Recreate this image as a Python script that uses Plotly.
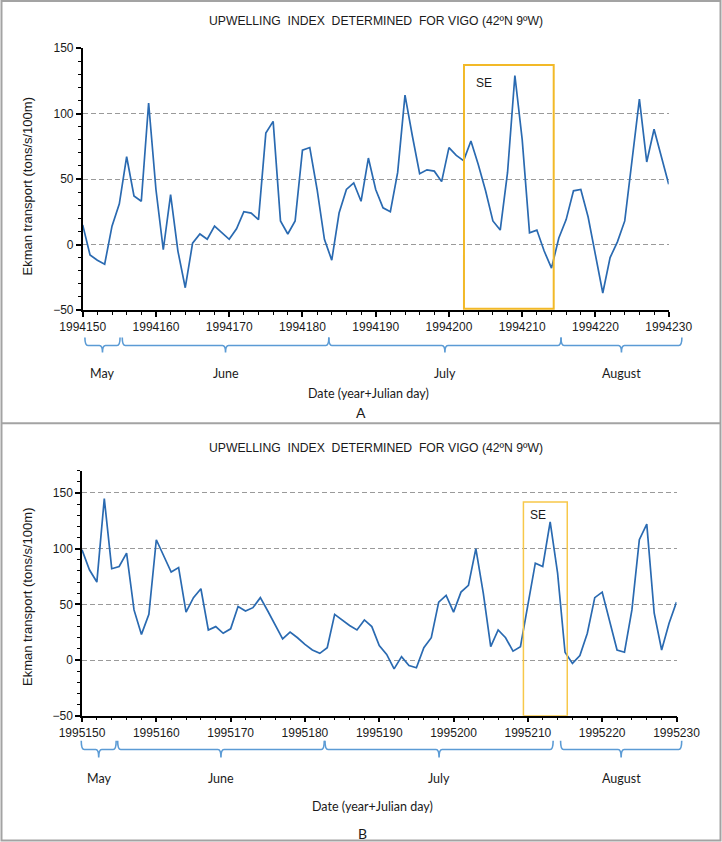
import plotly.graph_objects as go

W, H = 722, 842

# ---------------- data ----------------
days = list(range(150, 231))
dates_1994 = [1994000 + d for d in days]
dates_1995 = [1995000 + d for d in days]

ekman_1994 = [15, -8, -12, -15, 14, 31, 67, 37, 33, 108,
              42, -4, 38, -5, -33, 1, 8, 4, 14, 9,
              4, 12, 25, 24, 19, 85, 94, 18, 8, 18,
              72, 74, 42, 4, -12, 24, 42, 47, 33, 66,
              42, 28, 25, 55, 114, 83, 54, 57, 56, 48,
              74, 68, 64, 79, 61, 41, 18, 11, 55, 129,
              80, 9, 11, -5, -18, 5, 19, 41, 42, 21,
              -9, -37, -10, 2, 18, 67, 111, 63, 88, 67,
              46]

ekman_1995 = [99, 81, 70, 145, 82, 84, 96, 45, 23, 41,
              108, 93, 79, 83, 43, 56, 64, 27, 30, 24,
              28, 48, 44, 47, 56, 44, 31, 19, 25, 20,
              14, 9, 6, 11, 41, 36, 31, 27, 36, 30,
              13, 5, -8, 3, -5, -7, 11, 20, 52, 58,
              43, 61, 67, 100, 60, 12, 27, 20, 8, 12,
              48, 87, 84, 124, 78, 7, -3, 4, 24, 56,
              61, 35, 9, 7, 45, 108, 122, 42, 9, 33,
              52]

x_ticks_1994 = [1994150 + 10 * i for i in range(9)]
x_ticks_1995 = [1995150 + 10 * i for i in range(9)]
y_ticks = [-50, 0, 50, 100, 150]

months = ["May", "June", "July", "August"]
month_spans_1994 = [(150.3, 155.1), (155.4, 183.6), (183.6, 215.3), (215.3, 231.8)]
month_spans_1995 = [(149.9, 154.6), (154.8, 182.6), (182.7, 213.4), (214.4, 230.7)]

se_box_1994 = (1994202.05, 1994214.3, -49, 137)
se_box_1995 = (1995209.4, 1995215.3, -50, 142)

title_text = "UPWELLING  INDEX  DETERMINED  FOR VIGO (42ºN 9ºW)"
ytitle = "Ekman transport (tons/s/100m)"
xtitle = "Date (year+Julian day)"

# ---------------- layout geometry (pixels) ----------------
def px(x):
    return x / W

def py(y):
    return 1 - y / H

top = dict(xl=82.7, xr=668.7, yt=48, yb=310, rng=(-50, 150))
bot = dict(xl=82.0, xr=676.5, yt=470.7, yb=715.7, rng=(-50, 170))

LINE_COLOR = "#2A6AB1"
TEXT_COLOR = "#1a1a1a"
TICK_FONT = dict(family="Arial, Liberation Sans", size=12, color=TEXT_COLOR)
CAL_FONT = dict(family="Lato, Open Sans", size=12.5, color=TEXT_COLOR)

fig = go.Figure()
fig.add_trace(go.Scatter(x=dates_1994, y=ekman_1994, mode="lines",
                         line=dict(color=LINE_COLOR, width=1.7),
                         xaxis="x", yaxis="y", showlegend=False))
fig.add_trace(go.Scatter(x=dates_1995, y=ekman_1995, mode="lines",
                         line=dict(color=LINE_COLOR, width=1.7),
                         xaxis="x2", yaxis="y2", showlegend=False))


def xaxis_cfg(g, ticks, anchor):
    return dict(domain=[px(g["xl"]), px(g["xr"])], range=[ticks[0], ticks[-1]],
                tickvals=ticks, ticktext=[str(t) for t in ticks],
                showline=True, linecolor="black", linewidth=1.5,
                ticks="outside", ticklen=5, tickwidth=1.5, tickcolor="black",
                minor=dict(dtick=2, tick0=ticks[0], ticks="outside", ticklen=3,
                           tickwidth=1, tickcolor="black", showgrid=False),
                showgrid=False, zeroline=False, anchor=anchor, automargin=False,
                tickfont=TICK_FONT, fixedrange=True)


def yaxis_cfg(g, anchor):
    return dict(domain=[py(g["yb"]), py(g["yt"])], range=list(g["rng"]),
                tickvals=y_ticks, showline=True, linecolor="black", linewidth=1.5,
                ticks="outside", ticklen=5, tickwidth=1.5, tickcolor="black",
                minor=dict(dtick=10, tick0=-50, ticks="outside", ticklen=3,
                           tickwidth=1, tickcolor="black", showgrid=False),
                showgrid=True, gridcolor="#9a9a9a", gridwidth=1.4,
                griddash="5px,3px", zeroline=False, anchor=anchor, automargin=False,
                tickfont=TICK_FONT, fixedrange=True)


fig.update_layout(
    template="none",
    width=W, height=H, margin=dict(l=0, r=0, t=0, b=0, pad=0, autoexpand=False),
    paper_bgcolor="white", plot_bgcolor="white", showlegend=False,
    xaxis=xaxis_cfg(top, x_ticks_1994, "y"),
    yaxis=yaxis_cfg(top, "x"),
    xaxis2=xaxis_cfg(bot, x_ticks_1995, "y2"),
    yaxis2=yaxis_cfg(bot, "x2"),
)

shapes = []
annotations = []


def note(x, y, text, font, **kw):
    d = dict(x=px(x), y=py(y), xref="paper", yref="paper", text=text,
             showarrow=False, xanchor="center", yanchor="middle", font=font)
    d.update(kw)
    annotations.append(d)


# frame and separator
FRAME = "#a3a3a3"
shapes.append(dict(type="rect", xref="paper", yref="paper",
                   x0=px(1.5), x1=px(720.5), y0=py(840.5), y1=py(1),
                   line=dict(color=FRAME, width=2)))
shapes.append(dict(type="line", xref="paper", yref="paper",
                   x0=px(1.5), x1=px(720.5), y0=py(423.3), y1=py(423.3),
                   line=dict(color=FRAME, width=2)))

# SE boxes
shapes.append(dict(type="rect", xref="x", yref="y",
                   x0=se_box_1994[0], x1=se_box_1994[1],
                   y0=se_box_1994[2], y1=se_box_1994[3],
                   line=dict(color="#F2B928", width=2)))
shapes.append(dict(type="rect", xref="x2", yref="y2",
                   x0=se_box_1995[0], x1=se_box_1995[1],
                   y0=se_box_1995[2], y1=se_box_1995[3],
                   line=dict(color="#F7C84A", width=1.5)))
SE_FONT = dict(family="Arial, Liberation Sans", size=12, color=TEXT_COLOR)
annotations.append(dict(x=1994204.8, y=123, xref="x", yref="y", text="SE",
                        showarrow=False, xanchor="center", yanchor="middle",
                        font=SE_FONT))
annotations.append(dict(x=1995211.3, y=130, xref="x2", yref="y2", text="SE",
                        showarrow=False, xanchor="center", yanchor="middle",
                        font=SE_FONT))


def day_to_px(g, d):
    return g["xl"] + (d - 150) / 80.0 * (g["xr"] - g["xl"])


def brace(x0, x1, yt, yh, yp, r=3.0):
    xc = (x0 + x1) / 2
    P = lambda x, y: f"{px(x):.5f},{py(y):.5f}"
    return (f"M{P(x0, yt)} Q{P(x0, yh)} {P(x0 + r, yh)} L{P(xc - r, yh)} "
            f"Q{P(xc, yh)} {P(xc, yp)} Q{P(xc, yh)} {P(xc + r, yh)} "
            f"L{P(x1 - r, yh)} Q{P(x1, yh)} {P(x1, yt)}")


BRACE_COLOR = "#5B9BD5"
panel_text = [
    (top, month_spans_1994, 337.5, 345.5, 352.5, 373, 393, 412, "A", 368, 361),
    (bot, month_spans_1995, 740.7, 749.5, 757.5, 778, 806.5, 833, "B", 373, 362),
]
for g, spans, yt, yh, yp, ymon, ydate, ylet, letter, xdate, xlet in panel_text:
    for name, (d0, d1) in zip(months, spans):
        x0, x1 = day_to_px(g, d0), day_to_px(g, d1)
        shapes.append(dict(type="path", xref="paper", yref="paper",
                           path=brace(x0, x1, yt, yh, yp),
                           line=dict(color=BRACE_COLOR, width=1.6)))
        note((x0 + x1) / 2, ymon, name, CAL_FONT)
    note(xdate, ydate, xtitle, CAL_FONT)
    note(xlet, ylet, letter, dict(family="Lato, Open Sans", size=14, color=TEXT_COLOR))

# titles
for ytit, ycen in ((21, 186.5), (448, 597)):
    note(375.5, ytit, title_text,
         dict(family="Arial, Liberation Sans", size=12.2, color=TEXT_COLOR))
    note(27, ycen, ytitle,
         dict(family="Arial, Liberation Sans", size=13, color=TEXT_COLOR),
         textangle=-90)

fig.update_layout(shapes=shapes, annotations=annotations)
fig.write_html("out.html",
               config={"displayModeBar": False},
               post_script="document.body.style.margin='0';"
                           "document.body.style.padding='0';"
                           "document.body.style.overflow='hidden';")
